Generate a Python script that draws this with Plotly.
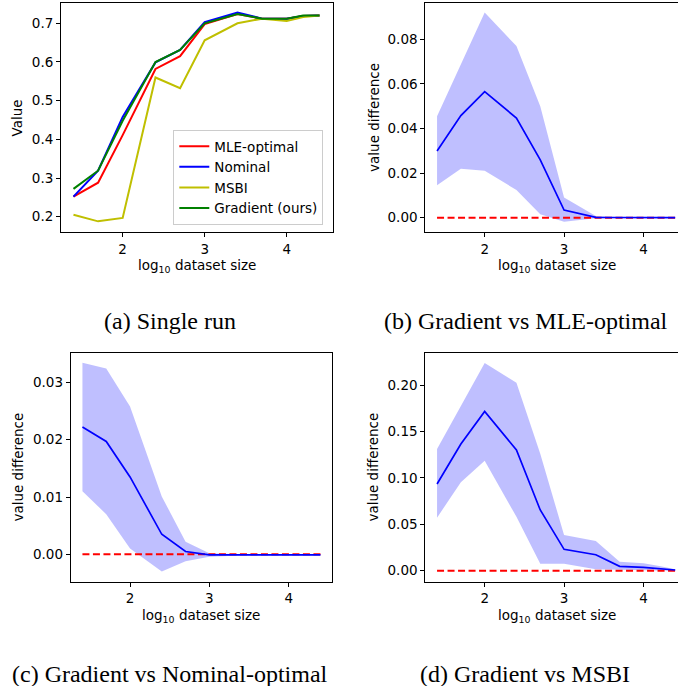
import plotly.graph_objects as go

# ---------------- data ----------------
log_size = [1.4, 1.7, 2.0, 2.4, 2.7, 3.0, 3.4, 3.7, 4.0, 4.2, 4.4]

# (a) single run
mle_optimal = [0.252, 0.288, 0.411, 0.582, 0.615, 0.698, 0.724, 0.712, 0.712, 0.719, 0.720]
nominal     = [0.252, 0.319, 0.458, 0.599, 0.631, 0.703, 0.728, 0.712, 0.712, 0.719, 0.720]
msbi        = [0.205, 0.188, 0.197, 0.560, 0.532, 0.656, 0.700, 0.712, 0.706, 0.716, 0.720]
gradient    = [0.272, 0.319, 0.448, 0.600, 0.631, 0.700, 0.724, 0.712, 0.712, 0.720, 0.720]

# (b) gradient vs MLE-optimal
b_mean  = [0.0299, 0.0458, 0.0565, 0.0447, 0.0259, 0.0034, 0.0001, 0.0, 0.0, 0.0, 0.0]
b_upper = [0.0455, 0.0685, 0.0920, 0.0770, 0.0500, 0.0090, 0.0007, 0.0002, 0.0002, 0.0001, 0.0001]
b_lower = [0.0145, 0.0220, 0.0211, 0.0124, 0.0015, -0.0018, -0.0003, 0.0, 0.0, 0.0, 0.0]

# (c) gradient vs Nominal-optimal
c_mean  = [0.0222, 0.0197, 0.0135, 0.0035, 0.0005, -0.0001, -0.0001, -0.0001, -0.0001, -0.0001, -0.0001]
c_upper = [0.0334, 0.0324, 0.0258, 0.0101, 0.0022, 0.0002, 0.0, 0.0, 0.0, 0.0, 0.0]
c_lower = [0.0110, 0.0070, 0.0010, -0.0030, -0.0012, -0.0004, -0.0002, -0.0002, -0.0002, -0.0002, -0.0002]

# (d) gradient vs MSBI
d_mean  = [0.0934, 0.1364, 0.1716, 0.1300, 0.0654, 0.0230, 0.0172, 0.0047, 0.0036, 0.0020, 0.0007]
d_upper = [0.1310, 0.1770, 0.2237, 0.2025, 0.1260, 0.0384, 0.0320, 0.0097, 0.0079, 0.0050, 0.0014]
d_lower = [0.0571, 0.0952, 0.1185, 0.0580, 0.0075, 0.0075, 0.0014, 0.0007, 0.0004, 0.0003, 0.0003]

zero_line = [0.0] * len(log_size)

x_ticks = [2, 3, 4]
captions = ["(a) Single run", "(b) Gradient vs MLE-optimal",
            "(c) Gradient vs Nominal-optimal", "(d) Gradient vs MSBI"]

# ---------------- layout helpers ----------------
W, H = 678, 686
def fx(px):
    return px / W
def fy(py):
    return 1 - py / H

TICKFONT = dict(family="DejaVu Sans", size=13.5, color="black")
FILL = "rgba(0,0,255,0.25)"

fig = go.Figure()

# panel a
series_a = [("MLE-optimal", mle_optimal, "#ff0000"),
            ("Nominal", nominal, "#0000ff"),
            ("MSBI", msbi, "#bfbf00"),
            ("Gradient (ours)", gradient, "#008000")]
for i, (name, vals, col) in enumerate(series_a):
    fig.add_trace(go.Scatter(x=log_size, y=vals, mode="lines", name=name,
                             line=dict(color=col, width=2), legendgroup=f"g{i}",
                             xaxis="x", yaxis="y", showlegend=True))

# panels b, c, d
diff_panels = [("x2", "y2", b_mean, b_upper, b_lower),
               ("x3", "y3", c_mean, c_upper, c_lower),
               ("x4", "y4", d_mean, d_upper, d_lower)]
for xa, ya, mean, up, lo in diff_panels:
    fig.add_trace(go.Scatter(x=log_size, y=lo, mode="lines", line=dict(width=0, color=FILL),
                             xaxis=xa, yaxis=ya, showlegend=False, hoverinfo="skip"))
    fig.add_trace(go.Scatter(x=log_size, y=up, mode="lines", line=dict(width=0, color=FILL),
                             fill="tonexty", fillcolor=FILL,
                             xaxis=xa, yaxis=ya, showlegend=False, hoverinfo="skip"))
    fig.add_trace(go.Scatter(x=log_size, y=zero_line, mode="lines",
                             line=dict(color="#ff0000", width=2, dash="7px,3.5px"),
                             xaxis=xa, yaxis=ya, showlegend=False))
    fig.add_trace(go.Scatter(x=log_size, y=mean, mode="lines",
                             line=dict(color="#0000ff", width=1.7),
                             xaxis=xa, yaxis=ya, showlegend=False))

def xaxis(dom, rng, mirror, anchor):
    return dict(domain=dom, range=rng, anchor=anchor,
                tickvals=x_ticks, ticktext=[str(t) for t in x_ticks],
                showline=True, linecolor="black", linewidth=1, mirror=mirror,
                ticks="outside", ticklen=4, tickwidth=1, tickcolor="black",
                showgrid=False, zeroline=False, tickfont=TICKFONT)

def yaxis(dom, rng, tv, fmt, mirror, anchor):
    return dict(domain=dom, range=rng, anchor=anchor,
                tickvals=tv, ticktext=[fmt.format(v) for v in tv],
                showline=True, linecolor="black", linewidth=1, mirror=mirror,
                ticks="outside", ticklen=4, tickwidth=1, tickcolor="black",
                showgrid=False, zeroline=False, tickfont=TICKFONT)

top_dom = [fy(232.3), fy(3.0)]
bot_dom = [fy(581.7), fy(353.0)]

fig.update_layout(
    width=W, height=H, autosize=False,
    margin=dict(l=0, r=0, t=0, b=0),
    paper_bgcolor="white", plot_bgcolor="white",
    font=dict(family="DejaVu Sans", size=13.5, color="black"),
    xaxis=xaxis([fx(61), fx(332.7)], [1.248, 4.561], True, "y"),
    yaxis=yaxis(top_dom, [0.1597, 0.7525], [0.2, 0.3, 0.4, 0.5, 0.6, 0.7], "{:.1f}", True, "x"),
    xaxis2=xaxis([fx(425.3), 1.0], [1.252, 4.435], True, "y2"),
    yaxis2=yaxis(top_dom, [-0.00656, 0.0963], [0.0, 0.02, 0.04, 0.06, 0.08], "{:.2f}", False, "x2"),
    xaxis3=xaxis([fx(70.7), fx(331.7)], [1.252, 4.542], True, "y3"),
    yaxis3=yaxis(bot_dom, [-0.00477, 0.03512], [0.0, 0.01, 0.02, 0.03], "{:.2f}", True, "x3"),
    xaxis4=xaxis([fx(425.3), 1.0], [1.252, 4.435], True, "y4"),
    yaxis4=yaxis(bot_dom, [-0.01188, 0.2345], [0.0, 0.05, 0.10, 0.15, 0.20], "{:.2f}", False, "x4"),
    legend=dict(x=fx(323.3), y=fy(225), xanchor="right", yanchor="bottom",
                bgcolor="white", bordercolor="#cccccc", borderwidth=1,
                font=dict(family="DejaVu Sans", size=13.5, color="black"),
                tracegroupgap=5, traceorder="normal"),
)

# axis titles
xl = "log<sub>10</sub> dataset size"
ann = []
for cx, cy in [(196.9, 265.7), (556.5, 265.7), (201.2, 616.0), (556.5, 616.0)]:
    ann.append(dict(text=xl, x=fx(cx), y=fy(cy), xref="paper", yref="paper",
                    xanchor="center", yanchor="middle", showarrow=False,
                    font=dict(family="DejaVu Sans", size=13.5, color="black")))
for txt, cx, cy in [("Value", 16.7, 117.7), ("value difference", 373.3, 117.6),
                    ("value difference", 18.3, 467.3), ("value difference", 373.3, 467.3)]:
    ann.append(dict(text=txt, x=fx(cx), y=fy(cy), xref="paper", yref="paper",
                    xanchor="center", yanchor="middle", showarrow=False, textangle=-90,
                    font=dict(family="DejaVu Sans", size=13.5, color="black")))
for txt, cx, cy in zip(captions, [170.4, 526.0, 169.5, 524.5], [321.0, 321.0, 674.0, 674.0]):
    ann.append(dict(text=txt, x=fx(cx), y=fy(cy), xref="paper", yref="paper",
                    xanchor="center", yanchor="middle", showarrow=False,
                    font=dict(family="Liberation Serif", size=24, color="black")))
fig.update_layout(annotations=ann)

fig.write_html("out.html")
